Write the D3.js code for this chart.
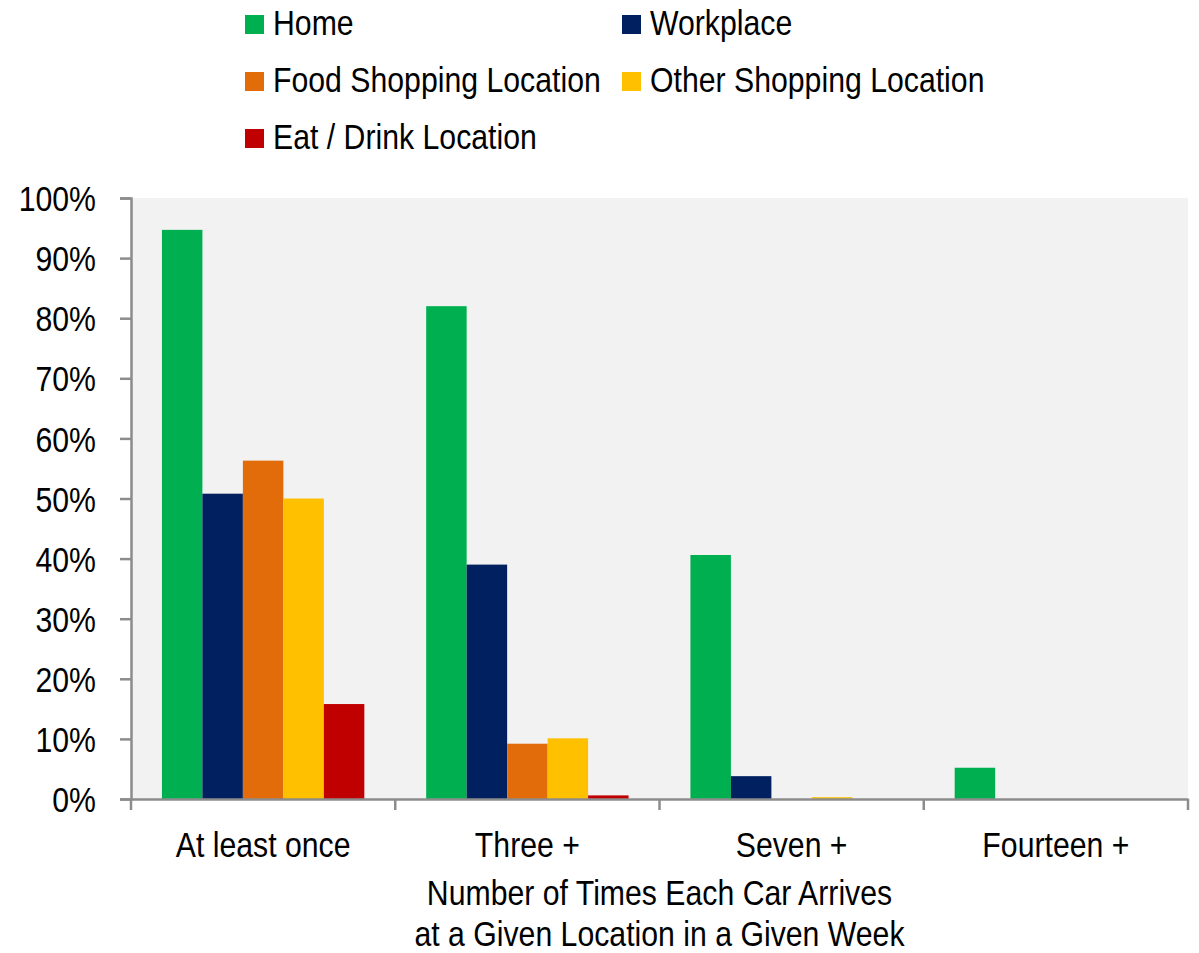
<!DOCTYPE html>
<html>
<head>
<meta charset="utf-8">
<script src="https://cdn.jsdelivr.net/npm/d3@7"></script>
<style>
  body { margin: 0; background: #fff; }
  svg text { font-family: "Liberation Sans", Arial, sans-serif; fill: #000; }
</style>
</head>
<body>
<svg width="1199" height="953"></svg>
<script>
  // categories on the x axis
  const categories = ['At least once', 'Three +', 'Seven +', 'Fourteen +'];
  const seriesNames = ['Home', 'Workplace', 'Food Shopping Location', 'Other Shopping Location', 'Eat / Drink Location'];
  const seriesColors = ['#00b050', '#002060', '#e36c0a', '#ffc000', '#c00000'];

  // values in percent, one array per series (in category order)
  const home          = [94.7, 82.0, 40.6, 5.2];
  const workplace     = [50.8, 39.0, 3.8, 0];
  const foodShopping  = [56.3, 9.2, 0, 0];
  const otherShopping = [50.0, 10.1, 0.3, 0];
  const eatDrink      = [15.8, 0.6, 0, 0];

  const yTicks = [0, 10, 20, 30, 40, 50, 60, 70, 80, 90, 100];
  const xTitle = ['Number of Times Each Car Arrives', 'at a Given Location in a Given Week'];

  (function (d3) {
  const seriesValues = [home, workplace, foodShopping, otherShopping, eatDrink];

  // the original uses a narrow font, squeeze the regular one instead
  const squeeze = 0.84;
  const condense = sel => sel.each(function () {
    const t = d3.select(this);
    const x = +t.attr('x') || 0;
    t.attr('x', x / squeeze).attr('transform', `scale(${squeeze},1)`);
  });

  const data = [];
  categories.forEach((c, i) => {
    seriesNames.forEach((s, j) => {
      data.push({ category: c, series: s, value: seriesValues[j][i] });
    });
  });

  const svg = d3.select('svg');

  const plotLeft = 131, plotRight = 1188, plotTop = 198, plotBottom = 799;

  const xScale = d3.scaleBand()
    .domain(categories)
    .range([plotLeft, plotRight])
    .padding(0);

  const bw = xScale.bandwidth();
  const inner = d3.scaleBand()
    .domain(seriesNames)
    .range([bw * 0.117, bw * 0.883])
    .padding(0);

  const yScale = d3.scaleLinear()
    .domain([0, 100])
    .range([plotBottom, plotTop]);

  const colorScale = d3.scaleOrdinal()
    .domain(seriesNames)
    .range(seriesColors);

  // plot background
  svg.append('rect')
    .attr('x', plotLeft).attr('y', plotTop)
    .attr('width', plotRight - plotLeft).attr('height', plotBottom - plotTop)
    .attr('fill', '#f2f2f2');

  // bars
  svg.append('g').selectAll('rect').data(data)
    .enter().append('rect')
      .attr('x', d => xScale(d.category) + inner(d.series))
      .attr('y', d => yScale(d.value))
      .attr('width', inner.bandwidth())
      .attr('height', d => plotBottom - yScale(d.value))
      .attr('fill', d => colorScale(d.series));

  // y axis
  const yAxisG = svg.append('g')
    .attr('transform', `translate(${plotLeft},0)`)
    .call(d3.axisLeft(yScale)
      .tickValues(yTicks)
      .tickFormat(d => d + '%')
      .tickSizeOuter(0)
      .tickSize(11)
      .tickPadding(24));
  yAxisG.selectAll('.domain').attr('stroke', '#8c8c8c').attr('stroke-width', 2.5);
  yAxisG.selectAll('.tick line').attr('stroke', '#8c8c8c').attr('stroke-width', 2.5);
  yAxisG.selectAll('.tick text')
    .style('font-size', '36px')
    .attr('dy', '0.35em')
    .call(condense);

  // x axis
  const xAxisG = svg.append('g')
    .attr('transform', `translate(0,${plotBottom})`)
    .call(d3.axisBottom(xScale).tickSize(0).tickSizeOuter(0).tickPadding(58));
  xAxisG.selectAll('.domain').attr('stroke', '#8c8c8c').attr('stroke-width', 2.5);
  xAxisG.selectAll('.tick text')
    .style('font-size', '36px')
    .attr('dy', '0')
    .call(condense);

  // category separators
  const seps = categories.map(c => xScale(c)).concat([plotRight]);
  xAxisG.selectAll('.sep').data(seps)
    .enter().append('line')
      .attr('class', 'sep')
      .attr('x1', d => d).attr('x2', d => d)
      .attr('y1', 0).attr('y2', 11)
      .attr('stroke', '#8c8c8c')
      .attr('stroke-width', 2.5);

  // x title
  svg.append('g').selectAll('text').data(xTitle)
    .enter().append('text')
      .attr('x', (plotLeft + plotRight) / 2)
      .attr('y', (d, i) => 905 + i * 41)
      .attr('text-anchor', 'middle')
      .style('font-size', '36px')
      .text(d => d)
      .call(condense);

  // legend
  const legendPos = [
    { x: 245, y: 35 }, { x: 622, y: 35 },
    { x: 245, y: 92 }, { x: 622, y: 92 },
    { x: 245, y: 149 }
  ];
  const legend = svg.append('g').selectAll('g').data(seriesNames)
    .enter().append('g')
      .attr('transform', (d, i) => `translate(${legendPos[i].x},${legendPos[i].y})`);
  legend.append('rect')
    .attr('x', 0).attr('y', -20)
    .attr('width', 19).attr('height', 19)
    .attr('fill', d => colorScale(d));
  legend.append('text')
    .attr('x', 28).attr('y', 0)
    .style('font-size', '36px')
    .text(d => d)
    .call(condense);
  }(d3));
</script>
</body>
</html>
